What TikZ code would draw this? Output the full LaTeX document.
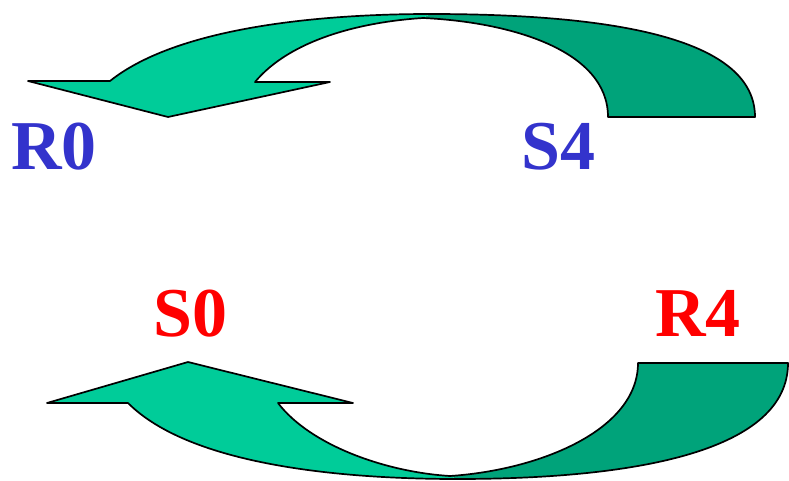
\documentclass[tikz,border=0pt]{standalone}
\usepackage{fontspec}
\setmainfont{Liberation Serif}
\definecolor{lightgreen}{RGB}{0,204,153}
\definecolor{darkgreen}{RGB}{0,163,122}
\definecolor{labelblue}{RGB}{51,51,204}
\definecolor{labelred}{RGB}{255,0,0}
\begin{document}
\begin{tikzpicture}[x=1pt,y=-1pt,
  outline/.style={draw=black,line width=1.7pt,line join=round},
  lbl/.style={font=\fontsize{70}{84}\selectfont\bfseries,inner sep=0pt,anchor=base west}]
\useasboundingbox (0,0) rectangle (789,481);
% ---------- upper curved arrow ----------
\fill[darkgreen] (608,117) -- (755,117) .. controls (755,40) and (620,14) .. (430,14)
  -- (423,18) .. controls (510,22) and (608,50) .. (608,117) -- cycle;
\fill[lightgreen] (28,81) -- (110,81) .. controls (180,25) and (330,14) .. (430,14)
  -- (423,18) .. controls (360,22) and (290,40) .. (255,82) -- (330,82) -- (168,117) -- cycle;
\draw[outline] (110,81) .. controls (180,25) and (330,14) .. (430,14)
  .. controls (620,14) and (755,40) .. (755,117) -- (608,117)
  .. controls (608,50) and (510,22) .. (423,18)
  .. controls (360,22) and (290,40) .. (255,82) -- (330,82) -- (168,117) -- (28,81) -- cycle;
% ---------- lower curved arrow ----------
\fill[darkgreen] (638,363) -- (788,363) .. controls (788,450) and (640,479) .. (457,479)
  -- (450,476) .. controls (540,470) and (638,430) .. (638,363) -- cycle;
\fill[lightgreen] (47,403) -- (128,403) .. controls (190,465) and (340,479) .. (457,479)
  -- (450,476) .. controls (385,472) and (310,445) .. (278,403) -- (353,403) -- (188,362) -- cycle;
\draw[outline] (128,403) .. controls (190,465) and (340,479) .. (457,479)
  .. controls (640,479) and (788,450) .. (788,363) -- (638,363)
  .. controls (638,430) and (540,470) .. (450,476)
  .. controls (385,472) and (310,445) .. (278,403) -- (353,403) -- (188,362) -- (47,403) -- cycle;
% ---------- labels ----------
\node[lbl,text=labelblue] (R0) at (11,170) {R0};
\node[lbl,text=labelblue] (S4) at (521,170) {S4};
\node[lbl,text=labelred] (S0) at (153,336) {S0};
\node[lbl,text=labelred] (R4) at (655,336) {R4};
\end{tikzpicture}
\end{document}
